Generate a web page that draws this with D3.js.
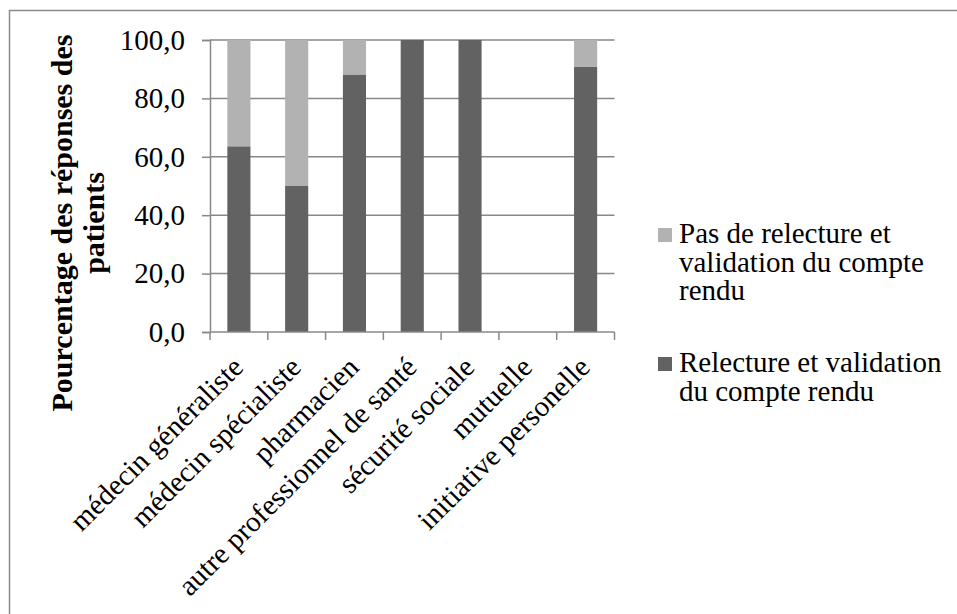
<!DOCTYPE html>
<html>
<head>
<meta charset="utf-8">
<script src="https://cdn.jsdelivr.net/npm/d3@7"></script>
<style>
svg text, svg tspan { font-family: 'Liberation Serif' !important; }
</style>
</head>
<body style="margin:0">
<svg id="chart" width="957" height="614" font-family="Liberation Serif"></svg>
<script>
const categories = ["médecin généraliste", "médecin spécialiste", "pharmacien",
  "autre professionnel de santé", "sécurité sociale", "mutuelle", "initiative personelle"];
const relecture = [63.6, 50.0, 88.2, 100.0, 100.0, 0.0, 90.9];
const pasRelecture = [36.4, 50.0, 11.8, 0.0, 0.0, 0.0, 9.1];
const seriesNames = ["Relecture et validation du compte rendu", "Pas de relecture et validation du compte rendu"];
const seriesColors = ["#626262", "#b2b2b2"];
const yTicks = [0, 20, 40, 60, 80, 100];
const yTitleLines = ["Pourcentage des réponses des", "patients"];
const legendLines = [["Pas de relecture et", "validation du compte", "rendu"], ["Relecture et validation", "du compte rendu"]];

const FONT = "Liberation Serif";
const FS = 29;
const svg = d3.select("#chart");
function serif(sel, size) {
  const s = size || FS;
  return sel.attr("font-family", FONT).style("font-family", FONT).attr("font-size", s).style("font-size", s + "px");
}

// outer chart border (extends beyond view at right/bottom)
svg.append("rect").attr("x", 9.5).attr("y", 10.5).attr("width", 1000).attr("height", 700)
  .attr("fill", "none").attr("stroke", "#8c8c8c").attr("stroke-width", 1.5);

const X0 = 210, X1 = 614.5;
const x = d3.scaleBand().domain(categories).range([X0, X1]).paddingInner(0.6).paddingOuter(0.3);
const y = d3.scaleLinear().domain([0, 100]).range([332, 40]);

const rows = categories.map((c, i) => ({cat: c, r: relecture[i], p: pasRelecture[i]}));
const stack = d3.stack().keys(["r", "p"])(rows);

// gridlines
svg.append("g").selectAll("line").data(yTicks.filter(t => t > 0)).join("line")
  .attr("x1", X0).attr("x2", X1).attr("y1", d => y(d)).attr("y2", d => y(d))
  .attr("stroke", "#888").attr("stroke-width", 1.5);

// bars
svg.append("g").selectAll("g").data(stack).join("g")
  .attr("fill", (d, i) => seriesColors[i])
  .selectAll("rect").data(d => d).join("rect")
  .attr("x", d => x(d.data.cat))
  .attr("width", x.bandwidth())
  .attr("y", d => y(d[1]))
  .attr("height", d => y(d[0]) - y(d[1]));

// y axis
const yAxis = d3.axisLeft(y).tickValues(yTicks).tickSize(8).tickPadding(17)
  .tickFormat(d => d3.format(".1f")(d).replace(".", ","));
const gy = svg.append("g").attr("transform", `translate(${X0},0)`).call(yAxis);
serif(gy);
gy.select(".domain").attr("stroke", "#888").attr("stroke-width", 1.5);
gy.selectAll(".tick line").attr("stroke", "#888").attr("stroke-width", 1.5);
serif(gy.selectAll(".tick text")).attr("fill", "#000").attr("dy", "0.32em");

// x axis with ticks at category boundaries
const boundaries = d3.range(categories.length + 1).map(i => X0 + i * ((X1 - X0) / categories.length));
svg.append("line").attr("x1", X0).attr("x2", X1).attr("y1", 332).attr("y2", 332)
  .attr("stroke", "#888").attr("stroke-width", 1.5);
svg.append("g").selectAll("line").data(boundaries).join("line")
  .attr("x1", d => d).attr("x2", d => d).attr("y1", 332).attr("y2", 340)
  .attr("stroke", "#888").attr("stroke-width", 1.5);

// category labels
serif(svg.append("g").selectAll("text").data(categories).join("text"))
  .attr("text-anchor", "end")
  .attr("transform", d => `translate(${x(d) + x.bandwidth() / 2 + 6},369) rotate(-45)`)
  .text(d => d);

// y title
const yt = serif(svg.append("text"), 30).attr("font-weight", "bold").style("font-weight", "bold")
  .attr("text-anchor", "middle").attr("transform", "translate(0,223) rotate(-90)");
yt.selectAll("tspan").data(yTitleLines).join("tspan")
  .attr("x", 0).attr("y", (d, i) => 72 + i * 32).text(d => d);

// legend
const legendTop = [228, 357];
const leg = svg.append("g");
legendLines.forEach((lines, i) => {
  const colorIdx = i === 0 ? 1 : 0;
  leg.append("rect").attr("x", 658).attr("y", legendTop[i]).attr("width", 14).attr("height", 14)
    .attr("fill", seriesColors[colorIdx]);
  const t = serif(leg.append("text"));
  t.selectAll("tspan").data(lines).join("tspan")
    .attr("x", 679).attr("y", (d, j) => legendTop[i] + 15 + j * 28.5).text(d => d);
});
</script>
</body>
</html>
